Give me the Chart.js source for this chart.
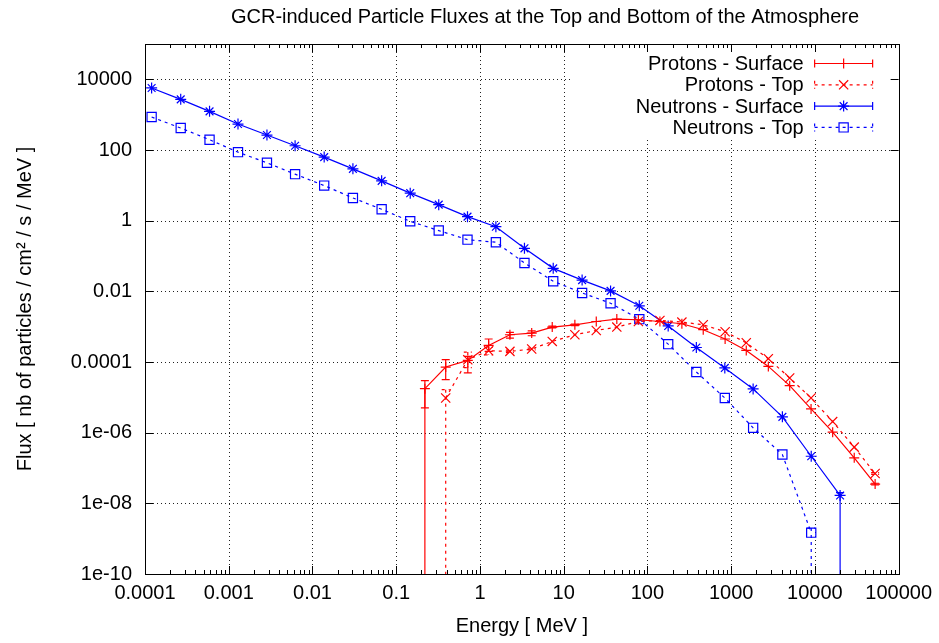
<!DOCTYPE html>
<html><head><meta charset="utf-8">
<script src="https://cdn.jsdelivr.net/npm/chart.js@4/dist/chart.umd.min.js"></script>
<style>html,body{margin:0;padding:0;background:#fff}</style>
</head><body>
<canvas id="c" width="939" height="643"></canvas>
<script>
// ---------------- data ----------------
// surface protons: first entry is the zero-flux threshold at 0.22 MeV
const protonSurfaceE    = [0.22, 0.22, 0.39, 0.716, 1.27, 2.28, 4.15, 7.3, 13.6, 24.5, 43.1, 78, 141, 258, 464, 847, 1515, 2780, 5000, 9000, 16300, 29500, 52400];
const protonSurfaceFlux = [1e-30, 1.76e-5, 7.2e-5, 1.11e-4, 2.94e-4, 5.9e-4, 6.6e-4, 9.75e-4, 1.13e-3, 1.4e-3, 1.64e-3, 1.57e-3, 1.4e-3, 1.21e-3, 8.2e-4, 4.47e-4, 2.13e-4, 7.5e-5, 2.14e-5, 4.7e-6, 1.03e-6, 1.94e-7, 3.5e-8];
const protonSurfaceLow  = [1e-30, 5.0e-6, 3.16e-5, 4.9e-5, 2.0e-4, 4.76e-4, 5.53e-4, 9.2e-4, 1.07e-3, 1.34e-3, 1.58e-3, 1.51e-3, 1.35e-3, 1.16e-3, 7.9e-4, 4.3e-4, 2.05e-4, 7.2e-5, 2.05e-5, 4.5e-6, 9.9e-7, 1.86e-7, 3.3e-8];
const protonSurfaceHigh = [1e-30, 2.97e-5, 1.16e-4, 1.44e-4, 4.47e-4, 6.85e-4, 7.65e-4, 1.03e-3, 1.19e-3, 1.46e-3, 1.70e-3, 1.63e-3, 1.45e-3, 1.26e-3, 8.5e-4, 4.65e-4, 2.21e-4, 7.8e-5, 2.23e-5, 4.9e-6, 1.07e-6, 2.02e-7, 3.7e-8];

const protonTopE    = [0.39, 0.716, 1.27, 2.28, 4.15, 7.3, 13.6, 24.5, 43.1, 78, 141, 258, 464, 847, 1515, 2780, 5000, 9000, 16300, 29500, 52400];
const protonTopFlux = [9.6e-6, 1.16e-4, 2.08e-4, 2.0e-4, 2.33e-4, 3.82e-4, 5.9e-4, 7.8e-4, 9.75e-4, 1.4e-3, 1.5e-3, 1.35e-3, 1.13e-3, 7.2e-4, 3.5e-4, 1.24e-4, 3.53e-5, 9.6e-6, 2.06e-6, 3.9e-7, 7.0e-8];
const protonTopLow  = [0, 6.9e-5, 1.6e-4, 1.85e-4, 2.2e-4, 3.65e-4, 5.65e-4, 7.5e-4, 9.4e-4, 1.35e-3, 1.45e-3, 1.3e-3, 1.09e-3, 6.95e-4, 3.38e-4, 1.2e-4, 3.4e-5, 9.2e-6, 1.98e-6, 3.75e-7, 6.6e-8];
const protonTopHigh = [1.65e-5, 1.91e-4, 2.6e-4, 2.16e-4, 2.46e-4, 4.0e-4, 6.15e-4, 8.1e-4, 1.01e-3, 1.45e-3, 1.55e-3, 1.4e-3, 1.17e-3, 7.45e-4, 3.62e-4, 1.28e-4, 3.66e-5, 1.0e-5, 2.14e-6, 4.05e-7, 7.4e-8];

const neutronE = [1.2e-4, 2.67e-4, 5.9e-4, 1.29e-3, 2.86e-3, 6.2e-3, 0.0138, 0.0304, 0.067, 0.147, 0.322, 0.71, 1.55, 3.4, 7.5, 16.6, 36.3, 80, 177, 384, 840, 1830, 4090, 9040, 20000];
const neutronSurfaceFlux = [5700, 2710, 1240, 543, 265, 132, 63, 29.3, 13.4, 6.0, 2.84, 1.3, 0.676, 0.165, 0.0447, 0.0208, 0.0103, 0.0039, 0.00105, 2.57e-4, 6.8e-5, 1.73e-5, 2.8e-6, 2.15e-7, 1.67e-8];
const neutronSurfaceLow  = [5700, 2710, 1240, 543, 265, 132, 63, 29.3, 13.4, 6.0, 2.84, 1.3, 0.676, 0.165, 0.0447, 0.0208, 0.0103, 0.0039, 0.00105, 2.57e-4, 6.8e-5, 1.73e-5, 2.8e-6, 2.15e-7, 0];
const neutronSurfaceHigh = [5700, 2710, 1240, 543, 265, 132, 63, 29.3, 13.4, 6.0, 2.84, 1.3, 0.676, 0.165, 0.0447, 0.0208, 0.0103, 0.0039, 0.00105, 2.57e-4, 6.8e-5, 1.73e-5, 2.8e-6, 2.15e-7, 2.0e-8];

const neutronTopE    = [1.2e-4, 2.67e-4, 5.9e-4, 1.29e-3, 2.86e-3, 6.2e-3, 0.0138, 0.0304, 0.067, 0.147, 0.322, 0.71, 1.55, 3.4, 7.5, 16.6, 36.3, 80, 177, 384, 840, 1830, 4090, 9040];
const neutronTopFlux = [857, 418, 195, 87, 43.4, 20.7, 9.84, 4.4, 2.1, 0.96, 0.525, 0.29, 0.245, 0.0636, 0.0193, 0.009, 0.0046, 0.00163, 3.2e-4, 5.2e-5, 9.6e-6, 1.37e-6, 2.4e-7, 1.48e-9];
const neutronTopLow  = [857, 418, 195, 87, 43.4, 20.7, 9.84, 4.4, 2.1, 0.96, 0.525, 0.29, 0.245, 0.0636, 0.0193, 0.009, 0.0046, 0.00163, 3.2e-4, 5.2e-5, 9.6e-6, 1.37e-6, 2.4e-7, 0];
const neutronTopHigh = [857, 418, 195, 87, 43.4, 20.7, 9.84, 4.4, 2.1, 0.96, 0.525, 0.29, 0.245, 0.0636, 0.0193, 0.009, 0.0046, 0.00163, 3.2e-4, 5.2e-5, 9.6e-6, 1.37e-6, 2.4e-7, 2.0e-9];

const seriesNames = ['Protons - Surface', 'Protons - Top', 'Neutrons - Surface', 'Neutrons - Top'];
const xTickValues = [1e-4, 1e-3, 1e-2, 1e-1, 1, 10, 100, 1000, 1e4, 1e5];
const xTickLabels = ['0.0001', '0.001', '0.01', '0.1', '1', '10', '100', '1000', '10000', '100000'];
const yTickValues = [1e-10, 1e-8, 1e-6, 1e-4, 1e-2, 1, 100, 1e4];
const yTickLabels = ['1e-10', '1e-08', '1e-06', '0.0001', '0.01', '1', '100', '10000'];
const titleText = 'GCR-induced Particle Fluxes at the Top and Bottom of the Atmosphere';
const xTitle = 'Energy [ MeV ]';
const yTitle = 'Flux [ nb of particles / cm\u00B2 / s / MeV ]';

// ---------------- chart ----------------
const FONT = '"Liberation Sans", Arial, Helvetica, sans-serif';
const RED = '#ff0000', BLUE = '#0000ff';

function pts(E, F, L, H) { return E.map((e, i) => ({ x: e, y: F[i], lo: L[i], hi: H[i] })); }

const datasets = [
  { label: seriesNames[0], data: pts(protonSurfaceE, protonSurfaceFlux, protonSurfaceLow, protonSurfaceHigh),
    borderColor: RED, backgroundColor: RED, borderWidth: 1.2, pointStyle: 'cross', pointRadius: c => (c.raw && c.raw.y < 1e-20 ? 0 : 5), borderDash: [] },
  { label: seriesNames[1], data: pts(protonTopE, protonTopFlux, protonTopLow, protonTopHigh),
    borderColor: RED, backgroundColor: RED, borderWidth: 1.2, pointStyle: 'crossRot', pointRadius: 6.5, borderDash: [3, 4] },
  { label: seriesNames[2], data: pts(neutronE, neutronSurfaceFlux, neutronSurfaceLow, neutronSurfaceHigh),
    borderColor: BLUE, backgroundColor: BLUE, borderWidth: 1.2, pointStyle: 'star', pointRadius: 5.5, borderDash: [] },
  { label: seriesNames[3], data: pts(neutronTopE, neutronTopFlux, neutronTopLow, neutronTopHigh),
    borderColor: BLUE, backgroundColor: 'rgba(0,0,0,0)', borderWidth: 1.2, pointStyle: 'rect', pointRadius: 6.5, borderDash: [3, 4] }
];
datasets.forEach(d => { d.pointBorderColor = d.borderColor; d.pointBackgroundColor = 'rgba(0,0,0,0)'; d.pointBorderWidth = 1.2; d.fill = false; d.tension = 0; });

function hline(ctx, x1, y1, x2, y2) { ctx.beginPath(); ctx.moveTo(x1, y1); ctx.lineTo(x2, y2); ctx.stroke(); }

const gridAndLegendBg = {
  id: 'gridAndLegendBg',
  beforeDatasetsDraw(chart) {
    const { ctx, chartArea: a, scales: { x, y } } = chart;
    ctx.save();
    ctx.strokeStyle = '#222'; ctx.lineWidth = 1; ctx.setLineDash([1, 3]);
    xTickValues.slice(1, -1).forEach(v => { const p = Math.round(x.getPixelForValue(v)) + 0.5; hline(ctx, p, a.top, p, a.bottom); });
    yTickValues.slice(1).forEach(v => { const p = Math.round(y.getPixelForValue(v)) + 0.5; hline(ctx, a.left, p, a.right, p); });
    ctx.setLineDash([]);
    ctx.fillStyle = '#fff';
    ctx.fillRect(a.right - 326, a.top + 1, 325, 93);
    ctx.restore();
  }
};

const errorBars = {
  id: 'errorBars',
  afterDatasetsDraw(chart) {
    const { ctx, chartArea: a, scales: { x, y } } = chart;
    ctx.save();
    ctx.beginPath(); ctx.rect(a.left, a.top, a.right - a.left, a.bottom - a.top); ctx.clip();
    chart.data.datasets.forEach(ds => {
      ctx.strokeStyle = ds.borderColor; ctx.lineWidth = 1.2; ctx.setLineDash(ds.borderDash || []);
      ds.data.forEach(p => {
        if (p.y < 1e-20) return;
        const px = x.getPixelForValue(p.x);
        const yHi = y.getPixelForValue(p.hi);
        const yLo = p.lo > 0 ? y.getPixelForValue(p.lo) : a.bottom + 2;
        if (Math.abs(yLo - yHi) < 1.5) return;
        ctx.beginPath();
        ctx.moveTo(px, yHi); ctx.lineTo(px, yLo);
        ctx.moveTo(px - 4, yHi); ctx.lineTo(px + 4, yHi);
        if (p.lo > 0) { ctx.moveTo(px - 4, yLo); ctx.lineTo(px + 4, yLo); }
        ctx.stroke();
      });
    });
    ctx.restore();
  }
};

const frameTicksLegend = {
  id: 'frameTicksLegend',
  afterDatasetsDraw(chart) {
    const { ctx, chartArea: a, scales: { x, y } } = chart;
    ctx.save();
    ctx.strokeStyle = '#000'; ctx.lineWidth = 1; ctx.setLineDash([]);
    for (let d = -4; d < 5; d++) {
      for (let m = 1; m <= 9; m++) {
        const v = m * Math.pow(10, d);
        const p = Math.round(x.getPixelForValue(v)) + 0.5;
        const len = m === 1 ? 8 : 4;
        hline(ctx, p, a.bottom, p, a.bottom - len);
        hline(ctx, p, a.top, p, a.top + len);
      }
    }
    yTickValues.forEach(v => {
      const p = Math.round(y.getPixelForValue(v)) + 0.5;
      hline(ctx, a.left, p, a.left + 8, p);
      hline(ctx, a.right, p, a.right - 8, p);
    });
    ctx.strokeRect(Math.round(a.left) + 0.5, Math.round(a.top) + 0.5, Math.round(a.right - a.left), Math.round(a.bottom - a.top));

    // legend
    ctx.font = '20px ' + FONT;
    ctx.textAlign = 'right'; ctx.textBaseline = 'middle';
    chart.data.datasets.forEach((ds, i) => {
      const ry = a.top + 19.5 + i * 21.3;
      ctx.fillStyle = '#000';
      ctx.fillText(ds.label, a.right - 95, ry + 1);
      const x1 = a.right - 84, x2 = a.right - 26, xc = (x1 + x2) / 2;
      ctx.strokeStyle = ds.borderColor; ctx.lineWidth = 1.2;
      ctx.setLineDash(ds.borderDash || []);
      hline(ctx, x1, ry, x2, ry);
      hline(ctx, x1, ry - 4, x1, ry + 4);
      hline(ctx, x2, ry - 4, x2, ry + 4);
      ctx.setLineDash([]);
      ctx.fillStyle = 'rgba(0,0,0,0)';
      Chart.helpers.drawPoint(ctx, { pointStyle: ds.pointStyle, radius: typeof ds.pointRadius === 'number' ? ds.pointRadius : 5, borderWidth: 1.2, rotation: 0 }, xc, ry);
    });

    // chart title (centred where the reference places it)
    ctx.fillStyle = '#000';
    ctx.textAlign = 'center'; ctx.textBaseline = 'middle';
    ctx.fillText(chart.options.plugins.title.text, 545, 17);
    ctx.restore();
  }
};

Chart.defaults.font.family = FONT;
Chart.defaults.color = '#000';

new Chart(document.getElementById('c'), {
  type: 'line',
  data: { datasets },
  plugins: [gridAndLegendBg, errorBars, frameTicksLegend],
  options: {
    responsive: false, animation: false, devicePixelRatio: 1,
    layout: { padding: { left: 0, right: 36, top: 44, bottom: 0 } },
    plugins: {
      legend: { display: false }, tooltip: { enabled: false },
      title: { display: false, text: titleText }
    },
    scales: {
      x: {
        type: 'logarithmic', min: 1e-4, max: 1e5,
        afterBuildTicks: s => { s.ticks = xTickValues.map(v => ({ value: v })); },
        afterFit: s => { s.height = 69; },
        ticks: { autoSkip: false, maxRotation: 0, padding: 7, font: { size: 20 }, color: '#000',
                 callback: (v, i) => xTickLabels[i] },
        grid: { display: false, drawTicks: false }, border: { display: false },
        title: { display: true, text: xTitle, font: { size: 20 }, color: '#000', padding: { top: 0, bottom: 5 } }
      },
      y: {
        type: 'logarithmic', min: 1e-10, max: 1e5,
        afterBuildTicks: s => { s.ticks = yTickValues.map(v => ({ value: v })); },
        afterFit: s => { s.width = 145; },
        ticks: { autoSkip: false, padding: 13, font: { size: 20 }, color: '#000',
                 callback: (v, i) => yTickLabels[i] },
        grid: { display: false, drawTicks: false }, border: { display: false },
        title: { display: true, text: yTitle, font: { size: 20 }, color: '#000', padding: { top: 13, bottom: 0 } }
      }
    }
  }
});
</script>
</body></html>
